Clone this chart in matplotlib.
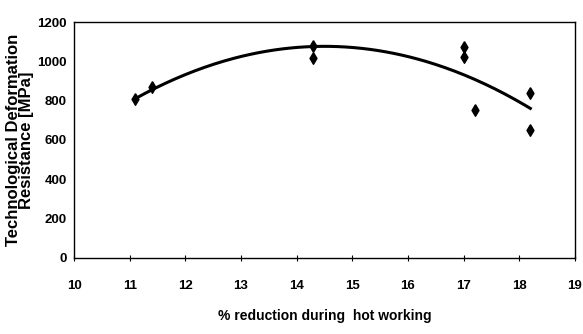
import matplotlib
matplotlib.use("Agg")
import matplotlib.pyplot as plt
import numpy as np

# measured points (% reduction, resistance MPa)
reduction = [11.1, 11.4, 14.3, 14.3, 17.0, 17.0, 17.2, 18.2, 18.2]
resistance = [810, 870, 1080, 1015, 1075, 1020, 750, 840, 650]

x_ticks = [10, 11, 12, 13, 14, 15, 16, 17, 18, 19]
y_ticks = [0, 200, 400, 600, 800, 1000, 1200]

plt.rcParams["font.family"] = ["Liberation Sans", "DejaVu Sans"]

fig = plt.figure(figsize=(5.83, 3.34), dpi=100)
ax = fig.add_axes([0.127, 0.228, 0.859, 0.706])

# 2nd order trend line
coef = np.polyfit(reduction, resistance, 2)
xs = np.linspace(min(reduction), max(reduction), 200)
ax.plot(xs, np.polyval(coef, xs), color="black", lw=2.2, zorder=2)

# tall diamond marker
diamond = [(0, 1), (0.6, 0), (0, -1), (-0.6, 0), (0, 1)]
ax.scatter(reduction, resistance, marker=diamond, s=70, color="black",
           zorder=3)

ax.set_xlim(10, 19)
ax.set_ylim(0, 1200)
ax.set_xticks(x_ticks)
ax.set_yticks(y_ticks)
ax.tick_params(axis="x", direction="inout", length=4, width=0.8, pad=14,
               labelsize=9.5)
ax.tick_params(axis="y", length=0, pad=5, labelsize=9.5)
for lab in ax.get_xticklabels() + ax.get_yticklabels():
    lab.set_fontweight("bold")

for s in ax.spines.values():
    s.set_linewidth(1.0)

ax.set_xlabel("% reduction during  hot working", fontsize=10,
              fontweight="bold", labelpad=12)
ax.set_ylabel("Technological Deformation\nResistance [MPa]", fontsize=12,
              fontweight="bold", linespacing=0.85)
ax.yaxis.set_label_coords(-0.08, 0.5)

plt.savefig("out.png", dpi=100)
